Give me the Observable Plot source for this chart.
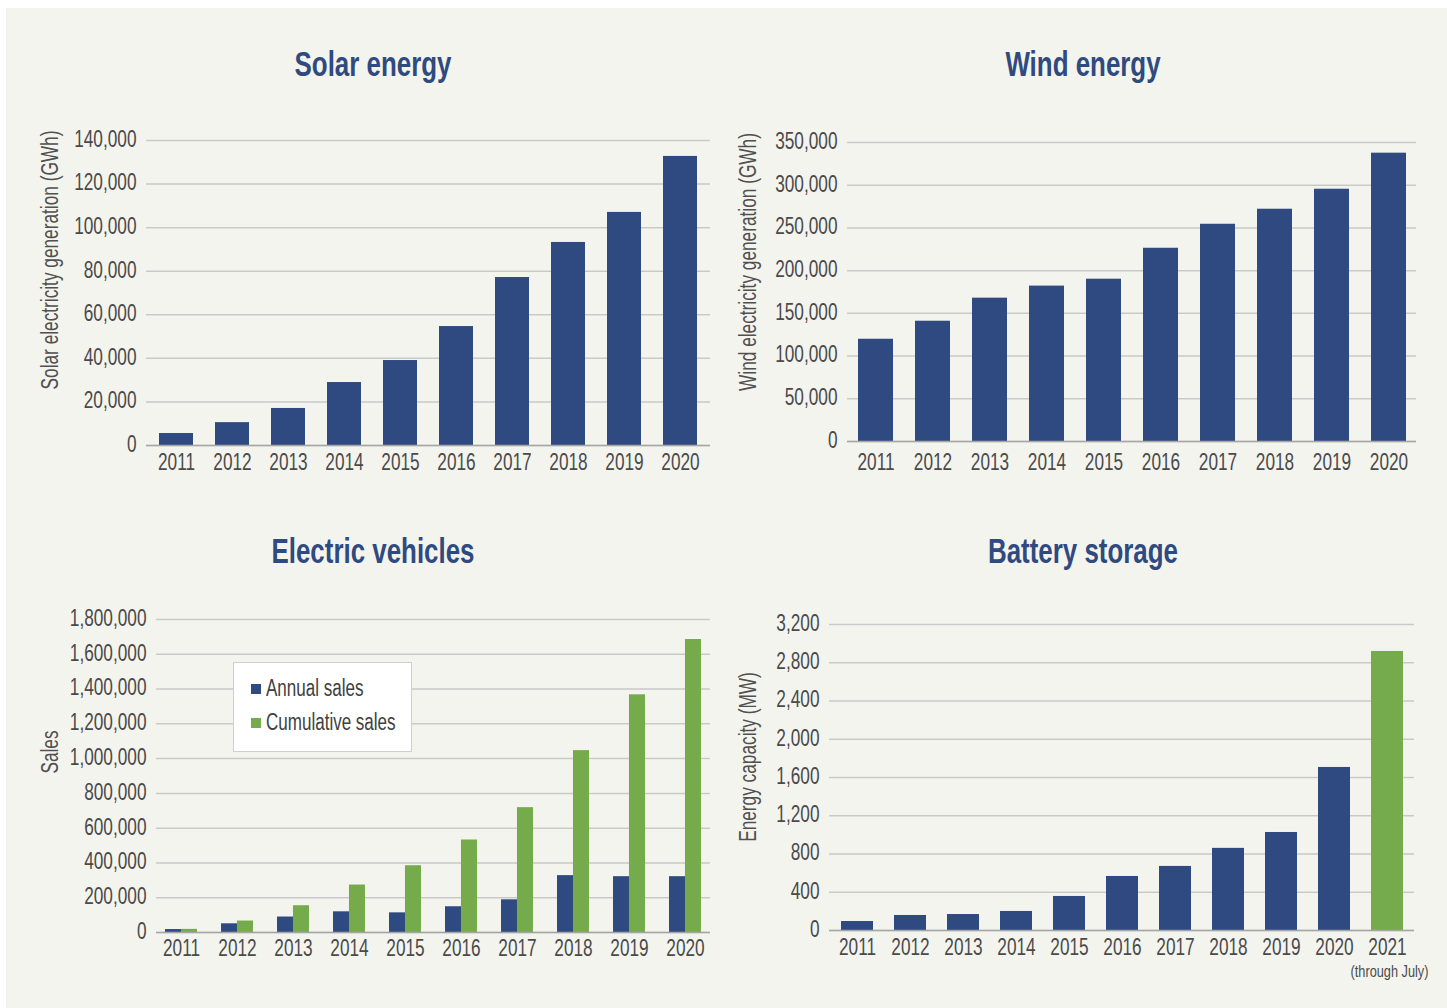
<!DOCTYPE html>
<html><head><meta charset="utf-8">
<script src="https://cdn.jsdelivr.net/npm/d3@7"></script>
<script src="https://cdn.jsdelivr.net/npm/@observablehq/plot@0.6"></script>
<style>
body{margin:0;background:#fff;}
#page{position:relative;width:1447px;height:1008px;background:#fff;overflow:hidden;font-family:"Liberation Sans",Arial,sans-serif;}
#bg{position:absolute;left:6px;top:8px;right:0;bottom:0;background:#f4f4ef;}
.title{position:absolute;transform:translate(-50%,-50%) scaleX(0.74);font-weight:bold;font-size:35px;color:#2f4a7f;white-space:nowrap;}
.ylab{position:absolute;transform:translate(-50%,-50%) rotate(-90deg) scaleX(0.75);font-size:23px;color:#505050;white-space:nowrap;}
.panel{position:absolute;}
#legend{position:absolute;left:233px;top:662px;width:177px;height:88px;background:#fff;border:1px solid #cfcfcf;font-size:23px;color:#404040;}
#legend .it{position:absolute;left:17px;display:flex;align-items:center;white-space:nowrap;}
#legend .sw{width:10px;height:10px;margin-right:5px;flex:none;}
#legend .lt{display:inline-block;transform:scaleX(0.74);transform-origin:left center;}
</style></head>
<body>
<div id="page">
  <div id="bg"></div>
  <div class="title" style="left:373px;top:64px">Solar energy</div>
  <div class="title" style="left:1083px;top:64px">Wind energy</div>
  <div class="title" style="left:373px;top:551px">Electric vehicles</div>
  <div class="title" style="left:1083px;top:551px">Battery storage</div>
  <div class="ylab" style="left:50px;top:260px">Solar electricity generation (GWh)</div>
  <div class="ylab" style="left:748px;top:262px">Wind electricity generation (GWh)</div>
  <div class="ylab" style="left:50px;top:752px">Sales</div>
  <div class="ylab" style="left:748px;top:757px">Energy capacity (MW)</div>
  <div id="solar" class="panel" style="left:0;top:100px"></div>
  <div id="wind" class="panel" style="left:720px;top:100px"></div>
  <div id="ev" class="panel" style="left:0;top:560px"></div>
  <div id="battery" class="panel" style="left:720px;top:560px"></div>
  <div id="legend"></div>
</div>
<script>
// ---- data ----
const years = ["2011","2012","2013","2014","2015","2016","2017","2018","2019","2020"];
const solarGWh = [5500, 10500, 17000, 28900, 39000, 54600, 77100, 93200, 107000, 132700];
const windGWh = [119700, 140800, 167800, 181900, 190000, 226200, 254300, 271900, 295300, 337500];
const evAnnual = [17000, 50000, 89000, 119000, 113000, 148000, 188000, 327000, 321000, 321000];
const evCumulative = [18000, 66000, 154000, 273000, 384000, 532000, 718000, 1046000, 1367000, 1685000];
const evSeries = ["Annual sales", "Cumulative sales"];
const batteryYears = ["2011","2012","2013","2014","2015","2016","2017","2018","2019","2020","2021"];
const batteryMW = [94, 157, 167, 199, 356, 565, 670, 859, 1025, 1705, 2918];
const batteryPeriod = ["Full year","Full year","Full year","Full year","Full year","Full year","Full year","Full year","Full year","Full year","Through July"];
const batteryNotes = [{year: "2021", note: "(through July)"}];

const solarTicks = d3.range(0, 140001, 20000);
const windTicks = d3.range(0, 350001, 50000);
const evTicks = d3.range(0, 1800001, 200000);
const batteryTicks = d3.range(0, 3201, 400);

// ---- style ----
const BLUE = "#2f4a80", GREEN = "#76ab4c", GRID = "#c9c9c9", BASE = "#a6a6a6", TXT = "#4a4a4a";
const FONT = '"Liberation Sans",Arial,sans-serif';
const NARROW = 0.75;
const fmt = d3.format(",");

function common(ticks, pad) {
  return [
    Plot.gridY(ticks, {stroke: GRID, strokeOpacity: 1, strokeWidth: 1.5}),
    Plot.axisY(ticks, {tickSize: 0, tickPadding: 10, tickFormat: fmt, label: null, fontSize: 23, fill: TXT, dy: -1}),
    Plot.axisX({tickSize: 0, tickPadding: pad, label: null, fontSize: 23, fill: TXT})
  ];
}
const styleBase = {background: "transparent", fontFamily: FONT, overflow: "visible"};

// condense svg text horizontally around its anchor
function condense(svg) {
  svg.querySelectorAll("text").forEach(t => {
    const x = +(t.getAttribute("x") || 0);
    const tr = t.getAttribute("transform") || "";
    t.setAttribute("transform", `${tr} translate(${x},0) scale(${NARROW},1) translate(${-x},0)`);
  });
  return svg;
}

// Solar
const solarData = years.map((y, i) => ({year: y, value: solarGWh[i]}));
document.getElementById("solar").append(condense(Plot.plot({
  width: 720, height: 400, marginLeft: 146, marginRight: 10, marginTop: 40, marginBottom: 55,
  style: styleBase,
  x: {domain: years, paddingInner: 0.4, paddingOuter: 0.2},
  y: {domain: [0, 140000]},
  marks: [
    ...common(solarTicks, 8),
    Plot.barY(solarData, {x: "year", y: "value", fill: BLUE}),
    Plot.ruleY([0], {stroke: BASE, strokeWidth: 1.5})
  ]
})));

// Wind
const windData = years.map((y, i) => ({year: y, value: windGWh[i]}));
document.getElementById("wind").append(condense(Plot.plot({
  width: 727, height: 400, marginLeft: 127, marginRight: 31, marginTop: 42, marginBottom: 59,
  style: styleBase,
  x: {domain: years, paddingInner: 0.386, paddingOuter: 0.18},
  y: {domain: [0, 350000]},
  marks: [
    ...common(windTicks, 12),
    Plot.barY(windData, {x: "year", y: "value", fill: BLUE}),
    Plot.ruleY([0], {stroke: BASE, strokeWidth: 1.5})
  ]
})));

// EV (grouped)
const evW = 720 - 156 - 10;
const evPadI = 0.43, evPadO = 0.16;
const evBw = d3.scaleBand().domain(years).range([0, evW]).paddingInner(evPadI).paddingOuter(evPadO).bandwidth();
const evA = years.map((y, i) => ({year: y, series: evSeries[0], value: evAnnual[i]}));
const evC = years.map((y, i) => ({year: y, series: evSeries[1], value: evCumulative[i]}));
document.getElementById("ev").append(condense(Plot.plot({
  width: 720, height: 420, marginLeft: 156, marginRight: 10, marginTop: 59, marginBottom: 48,
  style: styleBase,
  x: {domain: years, paddingInner: evPadI, paddingOuter: evPadO},
  y: {domain: [0, 1800000]},
  color: {domain: evSeries, range: [BLUE, GREEN]},
  marks: [
    ...common(evTicks, 7),
    Plot.barY(evA, {x: "year", y: "value", fill: "series", insetRight: evBw / 2}),
    Plot.barY(evC, {x: "year", y: "value", fill: "series", insetLeft: evBw / 2}),
    Plot.ruleY([0], {stroke: BASE, strokeWidth: 1.5})
  ]
})));

// Battery
const batData = batteryYears.map((y, i) => ({year: y, value: batteryMW[i], period: batteryPeriod[i]}));
document.getElementById("battery").append(condense(Plot.plot({
  width: 727, height: 448, marginLeft: 109, marginRight: 33, marginTop: 64, marginBottom: 78,
  style: styleBase,
  x: {domain: batteryYears, paddingInner: 0.4, paddingOuter: 0.2},
  y: {domain: [0, 3200]},
  color: {domain: ["Full year", "Through July"], range: [BLUE, GREEN]},
  marks: [
    ...common(batteryTicks, 8),
    Plot.barY(batData, {x: "year", y: "value", fill: "period"}),
    Plot.ruleY([0], {stroke: BASE, strokeWidth: 1.5}),
    Plot.text(batteryNotes, {x: "year", text: "note", frameAnchor: "bottom", dy: 46, dx: 2, fontSize: 17, fill: TXT})
  ]
})));

// Legend
const legend = document.getElementById("legend");
evSeries.forEach((s, i) => {
  const it = document.createElement("div");
  it.className = "it";
  it.style.top = (12 + i * 34) + "px";
  it.innerHTML = `<span class="sw" style="background:${[BLUE, GREEN][i]}"></span><span class="lt">${s}</span>`;
  legend.append(it);
});
</script>
</body></html>
